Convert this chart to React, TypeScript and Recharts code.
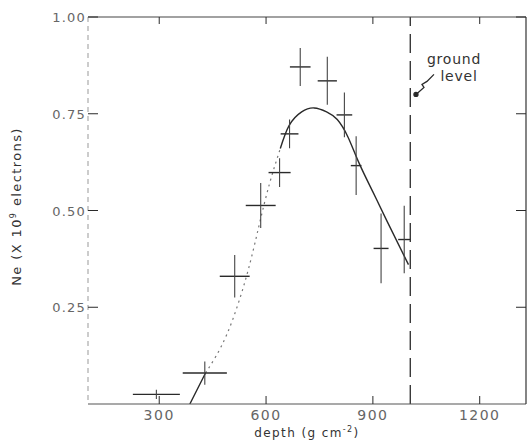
import React from 'react';
import {
  ComposedChart, Line, Scatter, ErrorBar, XAxis, YAxis, ReferenceLine, ReferenceDot,
} from 'recharts';

// measured shower points: depth, size, and the half widths of the crosses
const depths = [292, 428, 512, 585, 638, 666, 696, 772, 820, 853, 923, 988];
const sizes = [0.025, 0.08, 0.33, 0.513, 0.598, 0.698, 0.871, 0.835, 0.747, 0.616, 0.402, 0.425];
const depthErr = [66, 62, 42, 42, 31, 25, 29, 27, 22, 15, 21, 17];
const sizeErr = [0.012, 0.03, 0.055, 0.058, 0.037, 0.037, 0.049, 0.062, 0.058, 0.076, 0.09, 0.087];

// fitted curve (dotted part in the middle)
const fitDepths = [386, 430, 490, 545, 580, 610, 640, 665, 700, 735, 770, 800, 830, 860, 900, 940, 1000];
const fitValues = [0, 0.08, 0.18, 0.33, 0.46, 0.57, 0.66, 0.72, 0.755, 0.765, 0.755, 0.735, 0.69, 0.625, 0.548, 0.472, 0.36];

const xTicks = [300, 600, 900, 1200];
const yTicks = [0.25, 0.5, 0.75, 1.0];
const groundLevel = 1005;

const points = depths.map((d, i) => ({ depth: d, ne: sizes[i], dx: depthErr[i], dy: sizeErr[i] }));
const fitSolidData = fitDepths.map((d, i) => ({ depth: d, fit: i <= 1 || i >= 6 ? fitValues[i] : null }));
const fitDottedData = fitDepths.map((d, i) => ({ depth: d, fit: i >= 1 && i <= 6 ? fitValues[i] : null }));

const font = '"DejaVu Sans", sans-serif';
const ink = '#2a2a2a';
const grey = '#666';

const YTick = (props: any) => {
  const { x, y, payload } = props;
  return (
    <g>
      <line x1={x} y1={y} x2={x + 10} y2={y} stroke={ink} strokeWidth={1} />
      <text x={x - 2} y={y} dy={5} textAnchor="end" fontFamily={font} fontSize={13} letterSpacing={1.2} fill={grey}>
        {payload.value.toFixed(2)}
      </text>
    </g>
  );
};

const XTick = (props: any) => {
  const { x, y, payload } = props;
  return (
    <g>
      <line x1={x} y1={y} x2={x} y2={y - 8} stroke={ink} strokeWidth={1} />
      <text x={x} y={y} dy={16} textAnchor="middle" fontFamily={font} fontSize={14} letterSpacing={1.5} fill={grey}>
        {payload.value}
      </text>
    </g>
  );
};

const TopTick = (props: any) => {
  const { x, y } = props;
  return <line x1={x} y1={y} x2={x} y2={y + 7} stroke={ink} strokeWidth={1} />;
};

const RightTick = (props: any) => {
  const { x, y } = props;
  return <line x1={x} y1={y} x2={x - 10} y2={y} stroke={ink} strokeWidth={1} />;
};

const YLabel = (props: any) => {
  const { viewBox } = props;
  const cx = viewBox.x + 16;
  const cy = viewBox.y + viewBox.height / 2 - 4;
  return (
    <text x={cx} y={cy} transform={`rotate(-90 ${cx} ${cy})`} textAnchor="middle" dy={5}
      fontFamily={font} fontSize={13} letterSpacing={1.4} fill="#333">
      Ne (X 10<tspan dy={-5} fontSize={8}>9</tspan><tspan dy={5}> electrons)</tspan>
    </text>
  );
};

const XLabel = (props: any) => {
  const { viewBox } = props;
  const cx = viewBox.x + viewBox.width / 2;
  return (
    <text x={cx} y={viewBox.y + 33} textAnchor="middle" fontFamily={font} fontSize={12} letterSpacing={1.4} fill="#333">
      depth (g cm<tspan dy={-5} fontSize={8}>-2</tspan><tspan dy={5}>)</tspan>
    </text>
  );
};

const Nothing = () => <g />;

const Word = (text: string) => (props: any) => (
  <text x={props.cx} y={props.cy} dy={5} textAnchor="middle" fontFamily={font} fontSize={14} letterSpacing={0.8} fill="#333">
    {text}
  </text>
);

const Arrow = (props: any) => {
  const { cx, cy } = props;
  return (
    <g stroke={ink} strokeWidth={1.3} fill="none">
      <path d={`M${cx},${cy} L${cx + 8},${cy - 7} L${cx + 6},${cy - 10} L${cx + 11},${cy - 13} L${cx + 18},${cy - 20}`} />
      <circle cx={cx} cy={cy} r={2} fill={ink} />
    </g>
  );
};

export default function App() {
  return (
    <div style={{ position: 'absolute', left: 0, top: 0, background: '#fff' }}>
      <ComposedChart width={528} height={445} margin={{ top: 16, right: 1, bottom: 0, left: 0 }}>
        <XAxis
          xAxisId="b" dataKey="depth" type="number" domain={[100, 1330]} ticks={xTicks}
          allowDataOverflow height={41} tickSize={0} tickMargin={0} tick={<XTick />}
          axisLine={{ stroke: '#555', strokeWidth: 1.2 }} label={<XLabel />}
        />
        <XAxis
          xAxisId="t" orientation="top" dataKey="depth" type="number" domain={[100, 1330]} ticks={xTicks}
          allowDataOverflow height={1} tickSize={0} tickMargin={0} tick={<TopTick />}
          axisLine={{ stroke: '#444', strokeWidth: 1.2 }}
        />
        <YAxis
          yAxisId="l" type="number" domain={[0, 1]} ticks={yTicks} allowDataOverflow width={88}
          tickSize={0} tickMargin={0} tick={<YTick />}
          axisLine={{ stroke: '#999', strokeWidth: 1, strokeDasharray: '5 4' }} label={<YLabel />}
        />
        <YAxis
          yAxisId="r" orientation="right" type="number" domain={[0, 1]} ticks={yTicks} allowDataOverflow width={1}
          tickSize={0} tickMargin={0} tick={<RightTick />}
          axisLine={{ stroke: '#333', strokeWidth: 1.2 }}
        />
        <ReferenceLine xAxisId="b" yAxisId="l" x={groundLevel} stroke={ink} strokeWidth={1.3} strokeDasharray="19 8" />
        <Line
          xAxisId="t" yAxisId="r" data={points} dataKey="ne" stroke="none" dot={false}
          isAnimationActive={false} legendType="none"
        />
        <Line
          xAxisId="b" yAxisId="l" data={fitSolidData} dataKey="fit" type="natural" stroke={ink}
          strokeWidth={1.4} dot={false} isAnimationActive={false} connectNulls={false}
        />
        <Line
          xAxisId="b" yAxisId="l" data={fitDottedData} dataKey="fit" type="natural" stroke="#777"
          strokeWidth={1.2} strokeDasharray="2 4" dot={false} isAnimationActive={false} connectNulls={false}
        />
        <Scatter xAxisId="b" yAxisId="l" data={points} dataKey="ne" shape={<Nothing />} isAnimationActive={false}>
          <ErrorBar dataKey="dx" direction="x" width={0} stroke={ink} strokeWidth={1.4} isAnimationActive={false} />
          <ErrorBar dataKey="dy" direction="y" width={0} stroke="#444" strokeWidth={1.1} isAnimationActive={false} />
        </Scatter>
        <ReferenceDot xAxisId="b" yAxisId="l" x={1128} y={0.892} r={0} shape={Word('ground')} />
        <ReferenceDot xAxisId="b" yAxisId="l" x={1142} y={0.848} r={0} shape={Word('level')} />
        <ReferenceDot xAxisId="b" yAxisId="l" x={1021} y={0.8} r={0} shape={<Arrow />} />
      </ComposedChart>
    </div>
  );
}
